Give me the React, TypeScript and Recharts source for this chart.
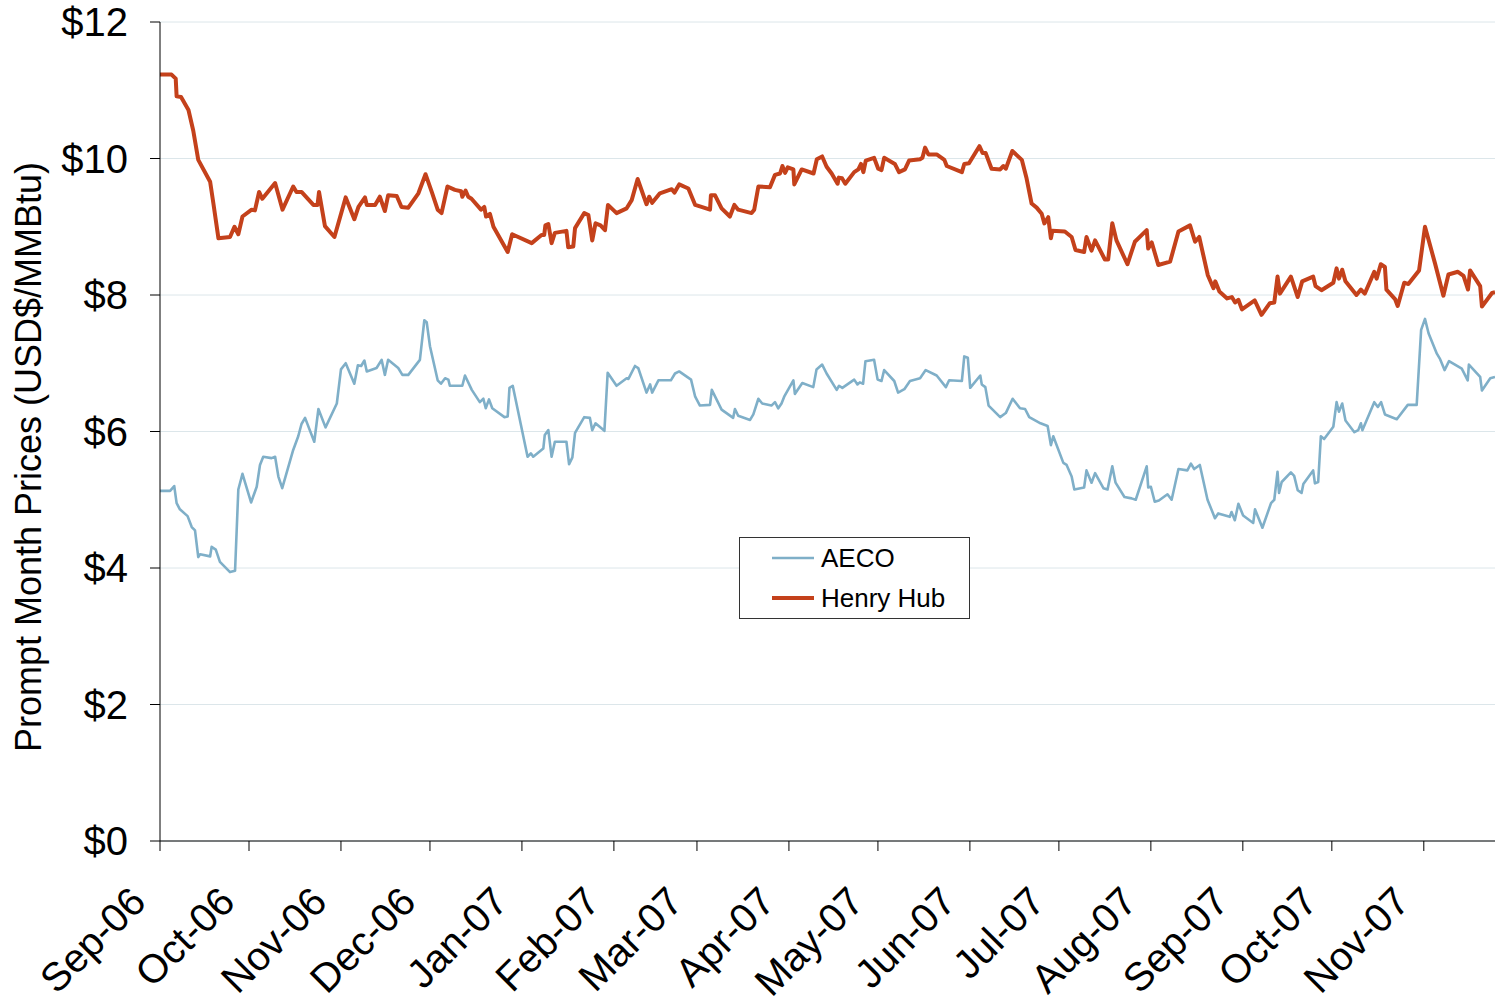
import React from 'react';
import { LineChart, Line, XAxis, YAxis, CartesianGrid } from 'recharts';

// Day offsets from 1 Sep 2006
const monthTicks = [0, 30, 61, 91, 122, 153, 181, 212, 242, 273, 303, 334, 365, 395, 426];
const monthLabels = ['Sep-06', 'Oct-06', 'Nov-06', 'Dec-06', 'Jan-07', 'Feb-07', 'Mar-07', 'Apr-07', 'May-07', 'Jun-07', 'Jul-07', 'Aug-07', 'Sep-07', 'Oct-07', 'Nov-07'];
const priceTicks = [0, 2, 4, 6, 8, 10, 12];

// [day offset, USD/MMBtu]
const henryHubSeries: [number, number][] = [
  [0, 11.23], [3.9, 11.23], [5.3, 11.17], [5.6, 10.91], [7.1, 10.9], [9.6, 10.71], [11.2, 10.41], [12.9, 9.98],
  [16.9, 9.66], [18, 9.34], [19.7, 8.83], [23.6, 8.85], [25.1, 9.0], [26.4, 8.89], [27.8, 9.15], [30.9, 9.25],
  [32, 9.24], [33.4, 9.51], [34.5, 9.41], [38.8, 9.64], [41.3, 9.25], [44.9, 9.59], [46, 9.51], [47.7, 9.51],
  [51.7, 9.32], [53.1, 9.32], [53.6, 9.51], [55.6, 9.01], [58.8, 8.85], [62.6, 9.43], [65.5, 9.11], [66.9, 9.29],
  [69.1, 9.43], [69.7, 9.32], [72.5, 9.32], [74.1, 9.44], [75.8, 9.23], [76.9, 9.46], [79.8, 9.45], [81.4, 9.29],
  [83.7, 9.28], [87.1, 9.49], [89.5, 9.77], [91.6, 9.51], [93.6, 9.25], [94.9, 9.2], [96.9, 9.59], [99.4, 9.54],
  [101.5, 9.52], [101.9, 9.44], [103, 9.53], [103.9, 9.44], [105, 9.41], [108.2, 9.25], [109.3, 9.29], [109.9, 9.15],
  [111.2, 9.19], [112.4, 9.0], [117.2, 8.63], [118.7, 8.89], [125.3, 8.76], [128.6, 8.88], [129.5, 8.88], [129.9, 9.02],
  [130.9, 9.04], [132, 8.76], [133.1, 8.91], [137, 8.94], [137.6, 8.7], [139.3, 8.71], [139.9, 8.98], [143, 9.2],
  [144.4, 9.17], [145.7, 8.8], [146.8, 9.05], [148.5, 9.02], [150, 8.95], [151, 9.32], [153.9, 9.2], [157.3, 9.27],
  [159, 9.39], [161, 9.7], [164, 9.33], [164.9, 9.44], [165.9, 9.35], [168.5, 9.49], [172.5, 9.55], [173.4, 9.5],
  [175, 9.62], [178.1, 9.56], [180.4, 9.32], [185.4, 9.25], [185.7, 9.46], [187.1, 9.46], [189.3, 9.27], [192.1, 9.15],
  [193.6, 9.32], [194.9, 9.25], [199.4, 9.2], [200.3, 9.25], [201.7, 9.59], [205.6, 9.58], [207.3, 9.76], [209, 9.78],
  [209.8, 9.89], [210.7, 9.79], [211.6, 9.87], [213.5, 9.84], [213.8, 9.62], [216.3, 9.84], [220.3, 9.78], [221.4, 9.99],
  [223.2, 10.03], [224.7, 9.88], [226.4, 9.78], [228.4, 9.63], [228.8, 9.72], [229.9, 9.71], [231, 9.63], [234, 9.8],
  [235.4, 9.84], [236.3, 9.92], [237.1, 9.8], [237.9, 9.97], [240.7, 10.01], [242.1, 9.85], [243.2, 9.83], [244.1, 10.01],
  [247.7, 9.92], [249.1, 9.8], [251.1, 9.84], [252.5, 9.97], [256.2, 9.99], [257, 10.01], [257.9, 10.16], [259, 10.06],
  [261.8, 10.06], [264.4, 9.98], [265.2, 9.89], [270.3, 9.8], [271.1, 9.92], [272.7, 9.93], [276.2, 10.18], [277.3, 10.08],
  [278.3, 10.08], [280.3, 9.85], [283.2, 9.84], [284.3, 9.89], [285.1, 9.85], [287.3, 10.11], [290.5, 9.98], [292.1, 9.71],
  [293.8, 9.34], [295.5, 9.28], [297.2, 9.19], [298.1, 9.05], [299.4, 9.14], [300.3, 8.83], [300.8, 8.94], [305, 8.93],
  [307.3, 8.85], [308.6, 8.66], [311.5, 8.63], [312.3, 8.85], [314, 8.65], [315.2, 8.8], [318.5, 8.52], [319.6, 8.52],
  [321, 9.05], [322.4, 8.8], [326.1, 8.45], [328.6, 8.78], [332.6, 8.95], [333.1, 8.68], [334.3, 8.77], [336.5, 8.44],
  [340.5, 8.49], [343.3, 8.93], [347.2, 9.02], [348.9, 8.78], [350.3, 8.85], [353.2, 8.29], [355.1, 8.1], [355.7, 8.2],
  [357.1, 8.05], [359.7, 7.95], [361.3, 7.97], [362.4, 7.89], [363.5, 7.93], [364.7, 7.79], [369, 7.92], [371.3, 7.71],
  [374.1, 7.88], [375.6, 7.89], [376.7, 8.27], [377.5, 8.02], [381.2, 8.27], [383.5, 7.97], [385, 8.2], [388.7, 8.27],
  [389.5, 8.13], [391.5, 8.07], [395.5, 8.18], [396.6, 8.39], [397.4, 8.24], [398.5, 8.37], [399.6, 8.2], [403.3, 8.0],
  [404.8, 8.08], [406.1, 8.02], [409.3, 8.34], [410.1, 8.24], [411.5, 8.45], [412.9, 8.41], [413.4, 8.08], [416.3, 7.94],
  [417.2, 7.84], [419.4, 8.18], [420.8, 8.16], [424.4, 8.36], [426.4, 9.0], [429.8, 8.46], [432.6, 7.99], [434.3, 8.3],
  [437.5, 8.34], [439.4, 8.28], [440.9, 8.08], [441.6, 8.36], [445, 8.13], [445.6, 7.83], [449, 8.03], [450, 8.04],
];

const aecoSeries: [number, number][] = [
  [0, 5.13], [3.4, 5.13], [4.8, 5.2], [5.6, 4.95], [6.7, 4.86], [9.3, 4.76], [10.7, 4.6], [11.8, 4.55],
  [12.9, 4.16], [13.5, 4.2], [16.9, 4.17], [17.4, 4.31], [18.8, 4.27], [20.2, 4.09], [23.6, 3.94], [25.3, 3.96],
  [26.4, 5.15], [27.8, 5.38], [30.7, 4.96], [32.6, 5.19], [33.7, 5.51], [34.8, 5.63], [37.6, 5.61], [38.8, 5.63],
  [39.9, 5.34], [41.2, 5.17], [44.9, 5.73], [46.6, 5.93], [47.7, 6.11], [48.9, 6.2], [52, 5.85], [53.4, 6.33],
  [55.8, 6.06], [59.6, 6.41], [61, 6.91], [62.6, 7.0], [65.5, 6.7], [66.7, 6.97], [67.8, 6.96], [68.9, 7.04],
  [69.7, 6.88], [73, 6.93], [74.7, 7.05], [75.8, 6.83], [76.9, 7.05], [80.3, 6.93], [81.7, 6.83], [83.7, 6.83],
  [87.6, 7.05], [89.1, 7.63], [89.9, 7.6], [91, 7.25], [93.6, 6.75], [94.7, 6.7], [96.1, 6.78], [97.2, 6.76],
  [97.7, 6.67], [101.9, 6.67], [102.8, 6.82], [105.1, 6.61], [107.8, 6.43], [109, 6.48], [109.8, 6.34], [110.9, 6.47],
  [112, 6.34], [116.1, 6.21], [117.2, 6.22], [117.8, 6.64], [118.9, 6.67], [123.9, 5.63], [125, 5.68], [125.8, 5.63],
  [129.2, 5.75], [129.7, 5.95], [130.9, 6.02], [132, 5.63], [133.1, 5.85], [137, 5.85], [137.9, 5.52], [139, 5.62],
  [139.9, 5.98], [143, 6.21], [144.9, 6.2], [145.7, 6.02], [146.8, 6.12], [149.8, 6.01], [150.9, 6.86], [153.9, 6.67],
  [157.3, 6.78], [157.9, 6.77], [160.1, 6.96], [161.2, 6.93], [164, 6.57], [165.2, 6.69], [165.9, 6.57], [168, 6.75],
  [172.2, 6.75], [173.6, 6.85], [175, 6.88], [179, 6.76], [180.4, 6.51], [182, 6.38], [185.4, 6.39], [186, 6.61],
  [189.3, 6.32], [193.2, 6.2], [193.8, 6.33], [194.9, 6.23], [198.9, 6.17], [200, 6.25], [201.7, 6.48], [203, 6.41],
  [206.1, 6.38], [207.3, 6.43], [208.4, 6.34], [209.5, 6.41], [210.4, 6.51], [213.5, 6.75], [214, 6.55], [216.5, 6.71],
  [220.2, 6.65], [221.3, 6.91], [223.2, 6.98], [224.7, 6.85], [228.1, 6.61], [228.9, 6.67], [230, 6.64], [234, 6.76],
  [235.1, 6.69], [235.9, 6.72], [237, 6.7], [237.8, 7.03], [240.7, 7.05], [241.9, 6.76], [243.2, 6.74], [244.1, 6.9],
  [247.5, 6.74], [248.8, 6.57], [250.9, 6.62], [252.8, 6.74], [256.2, 6.78], [258.1, 6.9], [261.8, 6.82], [264.9, 6.65],
  [266, 6.75], [270.3, 6.74], [271.1, 7.1], [272.3, 7.08], [273.1, 6.64], [276.5, 6.82], [277, 6.69], [278.2, 6.65],
  [279.3, 6.38], [283.2, 6.21], [285.1, 6.27], [287.4, 6.48], [289.9, 6.34], [291.6, 6.33], [293, 6.21], [296.8, 6.12],
  [299.2, 6.08], [300.3, 5.8], [301.1, 5.93], [304.5, 5.54], [305.6, 5.51], [307.3, 5.34], [308.2, 5.15], [311.5, 5.18],
  [312.3, 5.43], [314, 5.25], [315.2, 5.39], [318, 5.17], [319.4, 5.15], [321, 5.49], [322.1, 5.25], [325.1, 5.04],
  [327.5, 5.02], [328.9, 5.0], [332.6, 5.49], [333.1, 5.18], [334, 5.19], [335.3, 4.97], [336.7, 4.99], [339.6, 5.08],
  [341, 5.0], [343.3, 5.45], [346.3, 5.43], [347.5, 5.53], [348.6, 5.45], [350.5, 5.51], [353.1, 5.0], [355.6, 4.73],
  [356.7, 4.8], [360.6, 4.75], [361.2, 4.82], [362.3, 4.7], [363.5, 4.94], [365.1, 4.77], [368.5, 4.66], [369.1, 4.86],
  [371.6, 4.59], [374.5, 4.95], [375.6, 5.0], [376.7, 5.41], [377.2, 5.1], [378.1, 5.26], [381.2, 5.4], [382.3, 5.35],
  [383.5, 5.14], [384.8, 5.1], [385.4, 5.23], [388.7, 5.43], [389.3, 5.24], [390.4, 5.26], [391.3, 5.93], [392.4, 5.89],
  [395.5, 6.07], [396.6, 6.43], [397.4, 6.29], [398.5, 6.41], [399.6, 6.16], [402.6, 5.99], [403.9, 6.02], [404.8, 6.12],
  [405.3, 6.02], [409.3, 6.43], [410.5, 6.36], [411.6, 6.43], [412.9, 6.25], [416.9, 6.18], [420.6, 6.39], [423.6, 6.39],
  [425.1, 7.49], [426.4, 7.65], [427.6, 7.44], [430.4, 7.14], [431.5, 7.06], [433, 6.9], [434.5, 7.03], [438.8, 6.92],
  [440.8, 6.75], [441.2, 6.98], [445, 6.8], [445.6, 6.6], [448.4, 6.78], [450, 6.8],
];

const henryHubData = henryHubSeries.map(([d, p]) => ({ d, p }));
const aecoData = aecoSeries.map(([d, p]) => ({ d, p }));

const FONT = '"Liberation Sans", Arial, Helvetica, sans-serif';
const HH_COLOR = '#C4411B';
const AECO_COLOR = '#7FAFC8';

const XTick = (props: any) => {
  const { x, y, payload } = props;
  const idx = monthTicks.indexOf(payload.value);
  const ax = x - 12;
  const ay = y + 53;
  return (
    <text x={ax} y={ay} transform={`rotate(-45, ${ax}, ${ay})`} textAnchor="end" fontSize={40} fontFamily={FONT} fill="#000">
      {monthLabels[idx]}
    </text>
  );
};

const YTick = (props: any) => {
  const { x, y, payload } = props;
  return (
    <text x={x} y={y} dy="0.36em" textAnchor="end" fontSize={40} fontFamily={FONT} fill="#000">
      {`$${payload.value}`}
    </text>
  );
};

export default function App() {
  return (
    <div style={{ position: 'absolute', left: 0, top: 0, width: 1495, height: 1004, background: '#fff' }}>
      <LineChart width={1495} height={1004} margin={{ top: 22, right: 0, bottom: 0, left: 0 }}>
        <CartesianGrid horizontal vertical={false} stroke="#DCE6EA" strokeWidth={1} />
        <XAxis
          dataKey="d"
          type="number"
          domain={[0, 450]}
          ticks={monthTicks}
          interval={0}
          height={163}
          tickSize={10}
          tickMargin={0}
          tick={<XTick />}
          stroke="#000"
          allowDataOverflow
        />
        <YAxis
          type="number"
          domain={[0, 12]}
          ticks={priceTicks}
          interval={0}
          width={160}
          tickSize={10}
          tickMargin={22}
          tick={<YTick />}
          stroke="#000"
          label={(p: any) => (
            <text
              x={41}
              y={457}
              transform="rotate(-90, 41, 457)"
              textAnchor="middle"
              fontSize={36}
              fontFamily={FONT}
              fill="#000"
            >
              Prompt Month Prices (USD$/MMBtu)
            </text>
          )}
        />
        <Line
          data={aecoData}
          dataKey="p"
          name="AECO"
          type="linear"
          stroke={AECO_COLOR}
          strokeWidth={2.6}
          dot={false}
          activeDot={false}
          isAnimationActive={false}
          strokeLinejoin="round"
        />
        <Line
          data={henryHubData}
          dataKey="p"
          name="Henry Hub"
          type="linear"
          stroke={HH_COLOR}
          strokeWidth={4}
          dot={false}
          activeDot={false}
          isAnimationActive={false}
          strokeLinejoin="round"
        />
      </LineChart>
      <div
        style={{
          position: 'absolute',
          left: 739,
          top: 537,
          width: 229,
          height: 80,
          border: '1px solid #333',
          background: '#fff',
          fontFamily: FONT,
          fontSize: 26,
          color: '#000',
        }}
      >
        {[
          { name: 'AECO', color: AECO_COLOR, w: 2.6, top: 20 },
          { name: 'Henry Hub', color: HH_COLOR, w: 4, top: 60 },
        ].map((it) => (
          <div key={it.name} style={{ position: 'absolute', left: 0, top: it.top - 16, height: 32, width: 229 }}>
            <svg width={42} height={32} style={{ position: 'absolute', left: 32, top: 0 }}>
              <line x1={0} y1={16} x2={42} y2={16} stroke={it.color} strokeWidth={it.w} />
            </svg>
            <span style={{ position: 'absolute', left: 81, top: 1, lineHeight: '30px', whiteSpace: 'nowrap' }}>{it.name}</span>
          </div>
        ))}
      </div>
    </div>
  );
}
